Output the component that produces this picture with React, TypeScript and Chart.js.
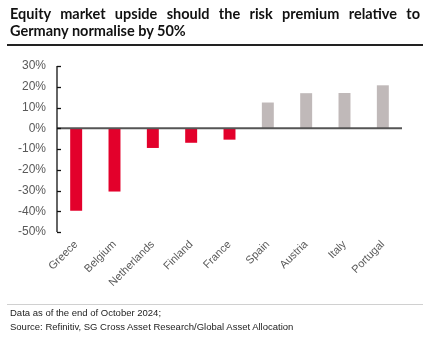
import React, { useEffect, useRef } from "react";
import { Chart, registerables } from "chart.js";

Chart.register(...registerables);

const categories = ["Greece", "Belgium", "Netherlands", "Finland", "France", "Spain", "Austria", "Italy", "Portugal"];
const values = [-39.8, -30.5, -9.5, -7.0, -5.5, 12.4, 16.9, 17.0, 20.7];
const yTicks = [30, 20, 10, 0, -10, -20, -30, -40, -50];
const RED = "#E3002B";
const GREY = "#C0B9B9";

const axisPlugin = {
  id: "axisPlugin",
  afterDatasetsDraw(chart: any) {
    const { ctx, chartArea, scales } = chart;
    const y = scales.y;
    ctx.save();
    // zero line
    const y0 = y.getPixelForValue(0);
    ctx.strokeStyle = "#555555";
    ctx.lineWidth = 2;
    ctx.beginPath();
    ctx.moveTo(chartArea.left, y0);
    ctx.lineTo(chartArea.right, y0);
    ctx.stroke();
    // y axis
    ctx.strokeStyle = "#111111";
    ctx.lineWidth = 1.3;
    ctx.beginPath();
    ctx.moveTo(chartArea.left, y.getPixelForValue(30));
    ctx.lineTo(chartArea.left, y.getPixelForValue(-50));
    ctx.stroke();
    yTicks.forEach((t) => {
      const py = Math.round(y.getPixelForValue(t)) + 0.5;
      ctx.beginPath();
      ctx.moveTo(chartArea.left, py);
      ctx.lineTo(chartArea.left + 4, py);
      ctx.stroke();
    });
    ctx.restore();
  },
};

export default function App() {
  const ref = useRef<HTMLCanvasElement>(null);
  useEffect(() => {
    const chart = new Chart(ref.current!, {
      type: "bar",
      data: {
        labels: categories,
        datasets: [
          {
            data: values,
            backgroundColor: values.map((v) => (v < 0 ? RED : GREY)),
            categoryPercentage: 0.8,
            barPercentage: 0.39,
          },
        ],
      },
      options: {
        animation: false,
        responsive: false,
        maintainAspectRatio: false,
        layout: { padding: { top: 66, right: 41, bottom: 37, left: 0 } },
        plugins: { legend: { display: false }, tooltip: { enabled: false } },
        scales: {
          y: {
            min: -50,
            max: 30,
            afterFit: (s: any) => {
              s.width = 57;
            },
            border: { display: false },
            grid: { display: false, drawTicks: false },
            ticks: {
              stepSize: 10,
              padding: 11,
              color: "#595959",
              font: { family: "Liberation Sans, Arial", size: 12 },
              callback: (v: any) => v + "%",
            },
          },
          x: {
            afterFit: (s: any) => {
              s.height = 70;
            },
            border: { display: false },
            grid: { display: false, drawTicks: false },
            ticks: {
              minRotation: 45,
              maxRotation: 45,
              autoSkip: false,
              padding: 6,
              color: "#595959",
              font: { family: "Liberation Sans, Arial", size: 11 },
            },
          },
        },
      },
      plugins: [axisPlugin],
    });
    return () => chart.destroy();
  }, []);

  return (
    <div style={{ position: "absolute", left: 0, top: 0, width: 443, height: 339, background: "#fff", overflow: "hidden" }}>
      <canvas ref={ref} width={443} height={339} style={{ position: "absolute", left: 0, top: 0, width: 443, height: 339 }} />
      <div
        style={{
          position: "absolute",
          left: 10,
          top: 5,
          width: 410,
          fontFamily: "Lato, 'Open Sans', sans-serif",
          fontWeight: 700,
          fontSize: 14.5,
          lineHeight: "17px",
          color: "#111",
        }}
      >
        <div style={{ textAlign: "justify", textAlignLast: "justify" as any, whiteSpace: "nowrap" as any }}>
          Equity market upside should the risk premium relative to
        </div>
        <div>Germany normalise by 50%</div>
      </div>
      <div style={{ position: "absolute", left: 7, top: 44, width: 416, height: 1.5, background: "#222" }} />
      <div style={{ position: "absolute", left: 7, top: 304, width: 416, height: 1, background: "#d0d0d0" }} />
      <div
        style={{
          position: "absolute",
          left: 10,
          top: 306,
          fontFamily: "'Liberation Sans', Arial, sans-serif",
          fontSize: 9.5,
          lineHeight: "14px",
          color: "#222",
        }}
      >
        <div>Data as of the end of October 2024;</div>
        <div>Source: Refinitiv, SG Cross Asset Research/Global Asset Allocation</div>
      </div>
    </div>
  );
}
